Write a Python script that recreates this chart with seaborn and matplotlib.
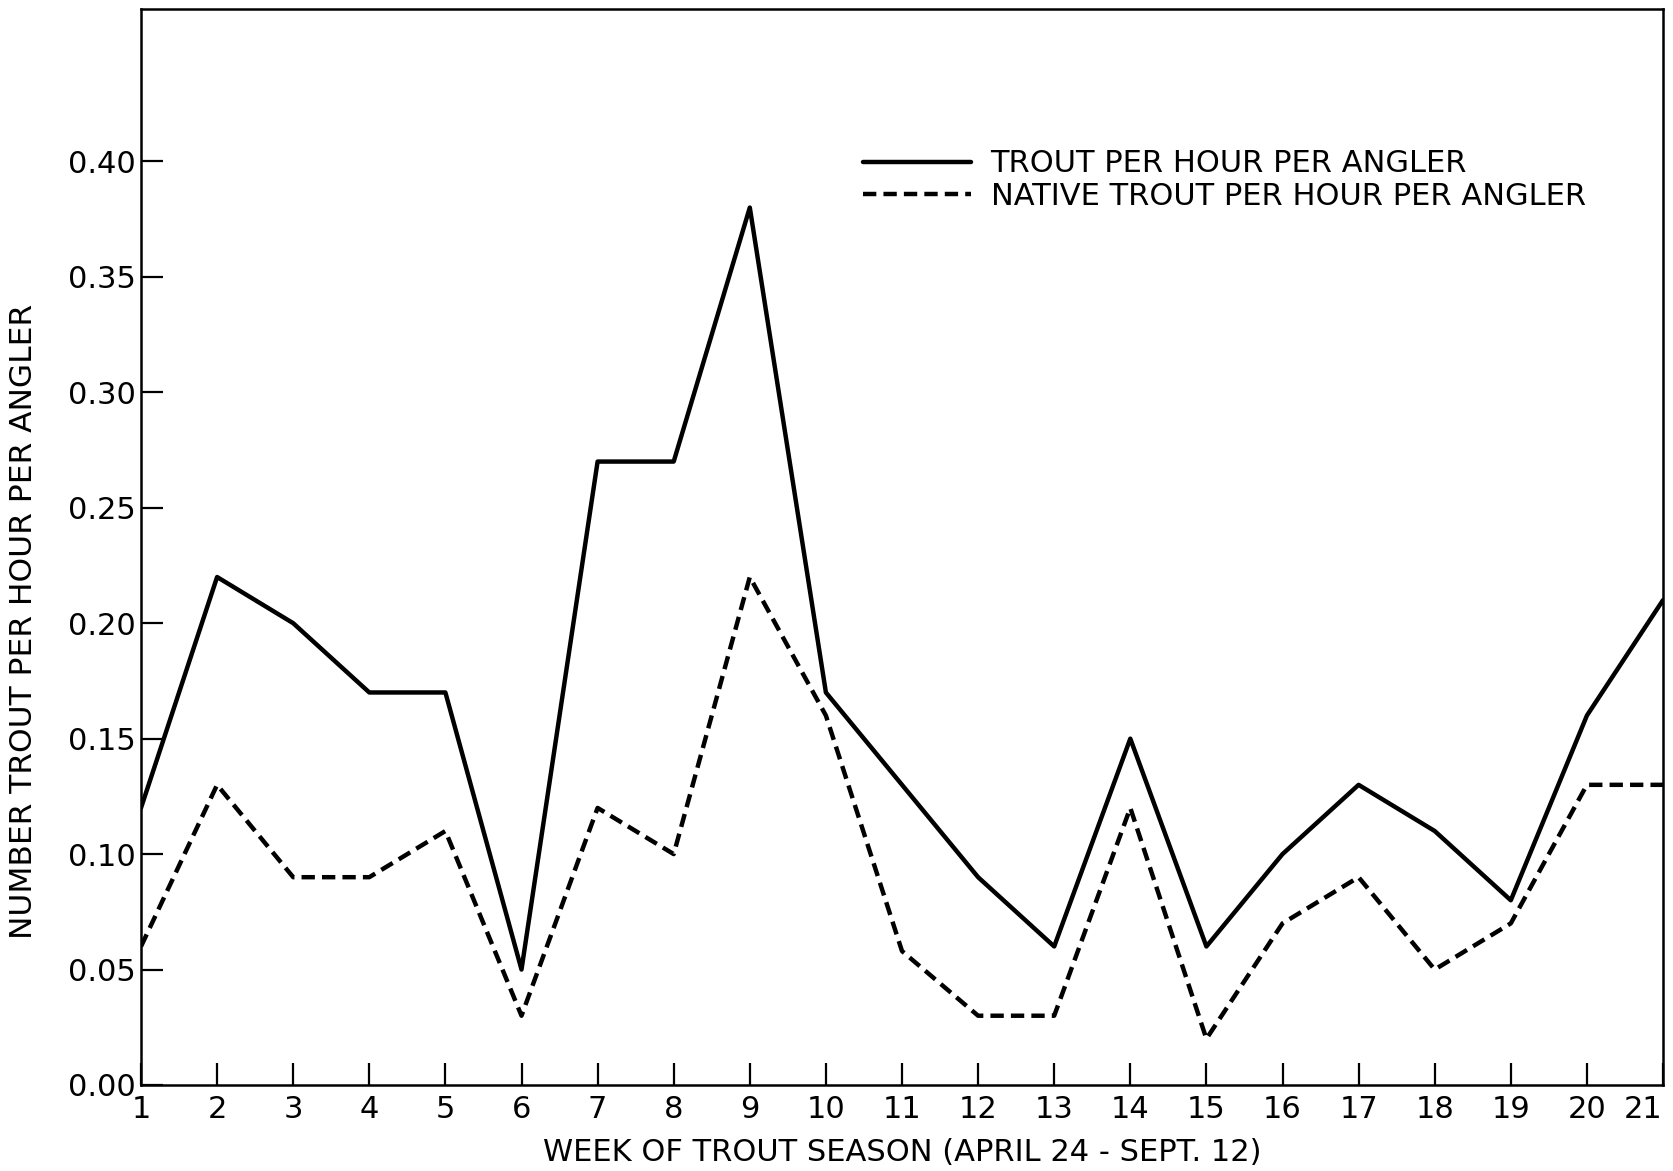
import matplotlib
matplotlib.use("Agg")
import matplotlib.pyplot as plt
import seaborn as sns
import pandas as pd

weeks = list(range(1, 22))
trout_per_hour = [0.12, 0.22, 0.20, 0.17, 0.17, 0.05, 0.27, 0.27, 0.38, 0.17, 0.13,
                  0.09, 0.06, 0.15, 0.06, 0.10, 0.13, 0.11, 0.08, 0.16, 0.21]
native_per_hour = [0.06, 0.13, 0.09, 0.09, 0.11, 0.03, 0.12, 0.10, 0.22, 0.16, 0.058,
                   0.03, 0.03, 0.12, 0.02, 0.07, 0.09, 0.05, 0.07, 0.13, 0.13]
series_names = ["TROUT PER HOUR PER ANGLER", "NATIVE TROUT PER HOUR PER ANGLER"]
y_ticks = [0.00, 0.05, 0.10, 0.15, 0.20, 0.25, 0.30, 0.35, 0.40]

df = pd.DataFrame({
    "week": weeks * 2,
    "rate": trout_per_hour + native_per_hour,
    "series": [series_names[0]] * len(weeks) + [series_names[1]] * len(weeks),
})

sns.set_style("ticks")
plt.rcParams["font.family"] = ["DejaVu Sans"]
plt.rcParams["text.color"] = "black"

fig = plt.figure(figsize=(16.74, 11.71), dpi=100)
ax = fig.add_axes([141 / 1674, 1 - 1085 / 1171, (1663 - 141) / 1674, (1085 - 9) / 1171])

sns.lineplot(
    data=df, x="week", y="rate", style="series", hue="series",
    palette=["black", "black"], dashes={series_names[0]: "", series_names[1]: (3, 1.6)},
    linewidth=3.2, ax=ax, legend=True,
)

ax.set_xlim(1, 21)
ax.set_ylim(0, 0.466)
ax.set_xticks(weeks)
ax.set_xticklabels([str(w) for w in weeks])
ax.set_yticks(y_ticks)
ax.set_yticklabels([f"{v:.2f}" for v in y_ticks])
ax.tick_params(axis="both", direction="in", length=16, width=1.6, labelsize=22,
               colors="black")
ax.tick_params(axis="x", pad=7)
ax.tick_params(axis="y", pad=4)
ax.get_xticklabels()[-1].set_horizontalalignment("right")

for s in ax.spines.values():
    s.set_linewidth(1.8)
    s.set_color("black")

ax.set_xlabel("WEEK OF TROUT SEASON (APRIL 24 - SEPT. 12)", fontsize=22, color="black")
ax.xaxis.set_label_coords(0.5, -0.049)
ax.set_ylabel("NUMBER TROUT PER HOUR PER ANGLER", fontsize=22.5, color="black")
ax.yaxis.set_label_coords(-0.068, 0.431)

leg = ax.legend(loc="upper left", bbox_to_anchor=(0.456, 0.895), frameon=False,
                fontsize=22, handlelength=3.56, handletextpad=0.63, labelspacing=0.12)
for line in leg.get_lines():
    line.set_linewidth(3.2)
for t in leg.get_texts():
    t.set_color("black")

fig.savefig("out.png", dpi=100, facecolor="white")
